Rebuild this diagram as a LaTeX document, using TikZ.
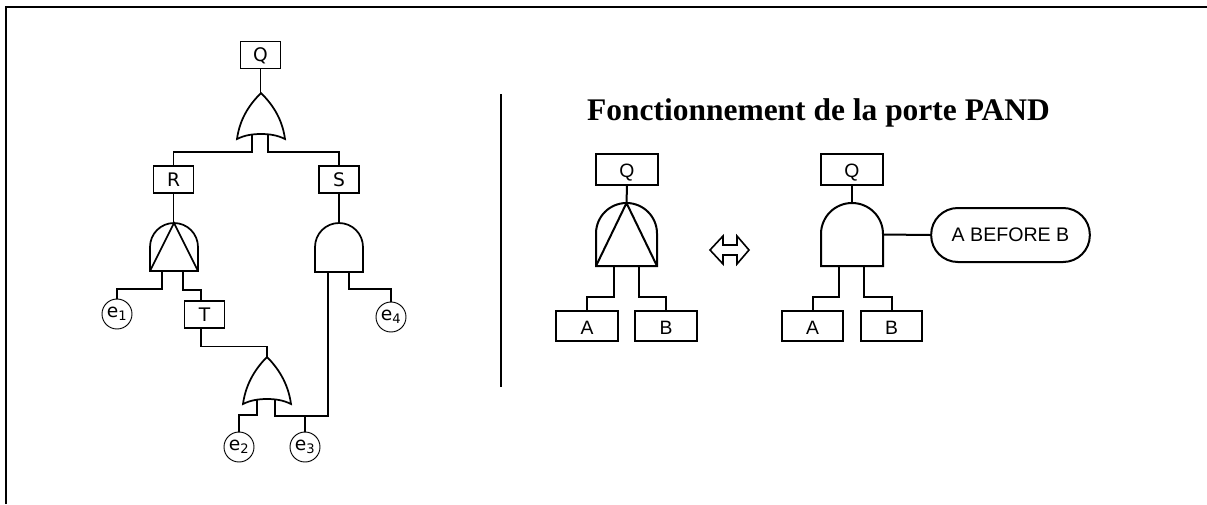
\documentclass[tikz,border=0pt]{standalone}
\usepackage{fontspec}
\setmainfont{Liberation Sans}
\newfontfamily\treefont{DejaVu Sans}
\newfontfamily\titlefont{Liberation Serif}
\tikzset{
	gatebox/.style={inner sep=0pt,outer sep=0pt},
	treebox/.style={draw,line width=1.1pt,minimum width=30pt,minimum height=20pt,inner sep=0pt,text height=10.2pt,text depth=0pt,font=\treefont\fontsize{14}{14}\selectfont},
	event/.style={draw,circle,line width=0.7pt,minimum size=22.5pt,inner sep=0pt,font=\treefont\fontsize{14}{14}\selectfont},
	portebox/.style={draw,line width=1.5pt,minimum width=46pt,minimum height=23pt,inner sep=0pt,text height=12.5pt,text depth=0pt,font=\fontsize{14.5}{14.5}\selectfont},
	treeline/.style={line width=1.3pt},
	porteline/.style={line width=1.5pt},
}
% name, centre, width, height
\newcommand{\orgate}[5][treeline]{
	\node[gatebox,minimum width=#4*0.75pt,minimum height=#5*0.75pt] (#2) at (#3) {};
	\draw[#1] (#2.north) .. controls +(10,10) and +(-3,-22) .. (#2.south east)
		.. controls +(-8,-4) and +(8,0) .. ([shift={(0,-5)}]#2.south)
		.. controls +(-8,0) and +(8,-4) .. (#2.south west)
		.. controls +(3,-22) and +(-10,10) .. (#2.north) -- cycle;
}
\newcommand{\andgate}[5][treeline]{
	\node[gatebox,minimum width=#4*0.75pt,minimum height=#5*0.75pt] (#2) at (#3) {};
	\draw[#1] (#2.south west) -- (#2.south east) -- ++(0,{-(#5-#4/2)})
		arc[start angle=0,end angle=-180,radius=#4/2] -- cycle;
}
\newcommand{\pandgate}[5][treeline]{
	\andgate[#1]{#2}{#3}{#4}{#5}
	\draw[#1] (#2.south west) -- (#2.north) -- (#2.south east);
}

\begin{document}
\begin{tikzpicture}[x=0.75pt,y=0.75pt,yscale=-1,xscale=1]
	\useasboundingbox (0,0) rectangle (1207,504);
	\draw [line width=1.5pt] (6,504) -- (6,6.5) -- (1207,6.5);
	
	% arbre de gauche
	\node [treebox] (q1) at (260.5,55) {Q};
	\node [treebox] (r) at (173.5,179.5) {R};
	\node [treebox] (s) at (339,179.5) {S};
	\node [treebox] (t) at (204.5,314.5) {T};
	\node [event] (e1) at (117,314) {e\textsubscript{1}};
	\node [event] (e2) at (239,447) {e\textsubscript{2}};
	\node [event] (e3) at (305,447) {e\textsubscript{3}};
	\node [event] (e4) at (391,317) {e\textsubscript{4}};
	\orgate{or1}{261,116}{48}{46}
	\orgate{or2}{267,380.5}{48}{47}
	\pandgate{pand1}{174,247}{48}{48}
	\andgate{and1}{339,247.5}{48}{49}
	
	\draw [treeline] (q1.south) -- (q1.south |- or1.north);
	\draw [treeline] ([shift={(-9,-4)}]or1.south) -- ++(0,17) -| (r.north);
	\draw [treeline] ([shift={(7,-4)}]or1.south) -- ++(0,17) -| (s.north);
	\draw [treeline] (r.south) -- (r.south |- pand1.north);
	\draw [treeline] (s.south) -- (s.south |- and1.north);
	\draw [treeline] ([xshift=-9pt]pand1.south) -- ++(0,18) -| (e1.north);
	\draw [treeline] ([xshift=6.75pt]pand1.south) -- ++(0,19) -| (t.north -| 201,0);
	\draw [treeline] (t.south -| 201,0) -- ++(0,18) -| (or2.north);
	\draw [treeline] ([shift={(-10,-4)}]or2.south) -- ++(0,15) -| (e2.north);
	\draw [treeline] ([shift={(8,-4)}]or2.south) -- ++(0,16) -| ([xshift=-8.25pt]and1.south);
	\draw [treeline] (e3.north) -- ++(0,-16);
	\draw [treeline] ([xshift=7.5pt]and1.south) -- ++(0,17) -| (e4.north);
	
	\draw [line width=1.2pt] (501,94) -- (501,387);
	
	\node [font=\titlefont\bfseries\fontsize{23.6}{23.6}\selectfont] (titre) at (818.5,112.5) {Fonctionnement de la porte PAND};
	
	% porte PAND
	\node [portebox] (q2) at (627,169.5) {Q};
	\node [portebox] (a2) at (587,326) {A};
	\node [portebox] (b2) at (666,326) {B};
	\pandgate[porteline]{pand2}{626.5,234.5}{61}{63}
	\draw [porteline] (q2.south) -- (pand2.north);
	\draw [porteline] ([xshift=-9.5pt]pand2.south) -- ++(0,31) -| (a2.north);
	\draw [porteline] ([xshift=9.5pt]pand2.south) -- ++(0,31) -| (b2.north);
	
	\draw [line width=1.2pt] (710,250) -- (723,236) -- (723,245) -- (737,245) -- (737,236) -- (749,250) -- (737,264) -- (737,255) -- (723,255) -- (723,264) -- cycle;
	
	% porte AND avec condition
	\node [portebox] (q3) at (852,169.5) {Q};
	\node [portebox] (a3) at (812.5,326) {A};
	\node [portebox] (b3) at (891.5,326) {B};
	\andgate[porteline]{and2}{852,234.5}{62}{63}
	\node [draw,line width=1.5pt,rounded corners=20pt,minimum width=119pt,minimum height=40.5pt,inner sep=0pt,font=\fontsize{14.7}{14.7}\selectfont] (cond) at (1010.5,235) {A BEFORE B};
	\draw [porteline] (q3.south) -- (and2.north);
	\draw [porteline] ([xshift=-9.75pt]and2.south) -- ++(0,31) -| (a3.north);
	\draw [porteline] ([xshift=9pt]and2.south) -- ++(0,31) -| (b3.north);
	\draw [porteline] (and2.east) -- (cond.west);
\end{tikzpicture}
\end{document}
